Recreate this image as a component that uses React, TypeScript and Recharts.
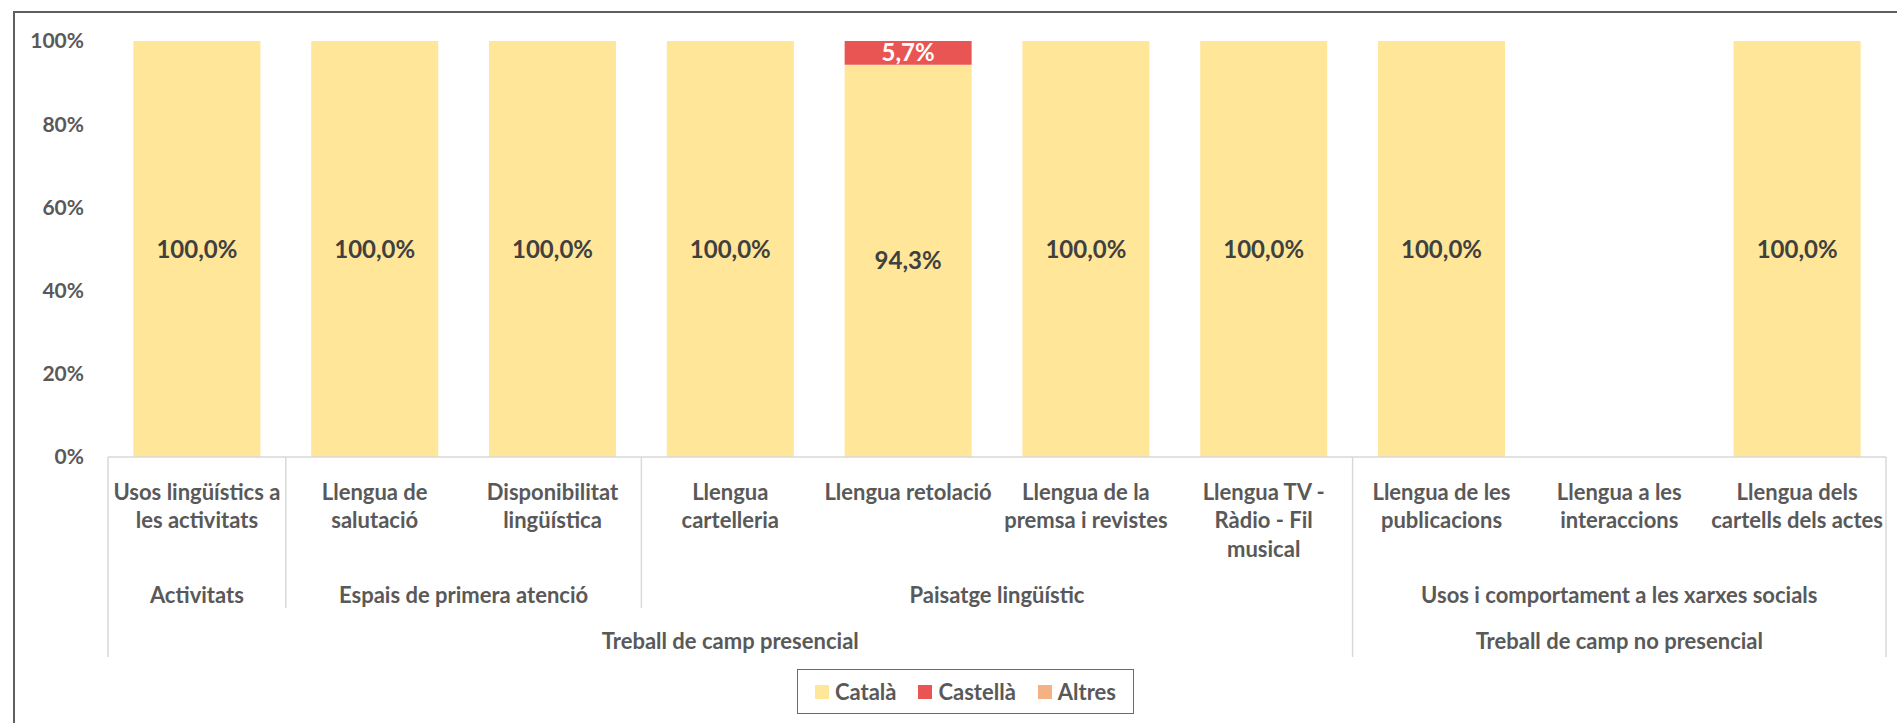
import React from "react";
import { BarChart, Bar, XAxis, YAxis, Legend, LabelList } from "recharts";

const CATEGORIES = [
  "Usos lingüístics a\nles activitats",
  "Llengua de\nsalutació",
  "Disponibilitat\nlingüística",
  "Llengua\ncartelleria",
  "Llengua retolació",
  "Llengua de la\npremsa i revistes",
  "Llengua TV -\nRàdio - Fil\nmusical",
  "Llengua de les\npublicacions",
  "Llengua a les\ninteraccions",
  "Llengua dels\ncartells dels actes",
];

// grouping of the categories (second and third level of the axis)
const GROUPS = ["Activitats", "Espais de primera atenció", "Paisatge lingüístic", "Usos i comportament a les xarxes socials"];
const GROUP_SIZES = [1, 2, 4, 3];
const SECTIONS = ["Treball de camp presencial", "Treball de camp no presencial"];
const SECTION_SIZES = [7, 3];

const SERIES = ["Català", "Castellà", "Altres"];
const CATALA = [100, 100, 100, 100, 94.3, 100, 100, 100, null, 100];
const CASTELLA = [0, 0, 0, 0, 5.7, 0, 0, 0, null, 0];
const ALTRES = [0, 0, 0, 0, 0, 0, 0, 0, null, 0];

const Y_TICKS = [0, 20, 40, 60, 80, 100];

const FONT = "Lato, Carlito, Calibri, sans-serif";
const TEXT = "#595959";
const DIVIDER = "#D9D9D9";
const AXIS_FS = 22;

const rows = CATEGORIES.map((name, i) => ({
  name,
  catala: CATALA[i],
  castella: CASTELLA[i],
  altres: ALTRES[i],
}));

const startsAt = (sizes: number[]) => {
  const out: number[] = [];
  let acc = 0;
  sizes.forEach((s) => {
    out.push(acc);
    acc += s;
  });
  return out;
};
const GROUP_STARTS = startsAt(GROUP_SIZES);
const SECTION_STARTS = startsAt(SECTION_SIZES);

const pct = (v: any) => (v ? `${Number(v).toFixed(1).replace(".", ",")}%` : "");

const CategoryTick = (props: any) => {
  const { x, y, payload } = props;
  const i = payload.index;
  const band = payload.offset ? payload.offset * 2 : props.width / CATEGORIES.length;
  const left = x - band / 2;
  const lines = String(payload.value).split("\n");
  const g = GROUP_STARTS.indexOf(i);
  const s = SECTION_STARTS.indexOf(i);
  const last = i === CATEGORIES.length - 1;

  return (
    <g>
      <text x={x} y={y + 34} textAnchor="middle" fill={TEXT} fontFamily={FONT} fontWeight={700} fontSize={AXIS_FS}>
        {lines.map((l, k) => (
          <tspan key={k} x={x} dy={k === 0 ? 0 : 28.5} dominantBaseline="central">
            {l}
          </tspan>
        ))}
      </text>
      {g >= 0 && (
        <>
          <line x1={left} x2={left} y1={y} y2={y + (s >= 0 ? 200 : 151)} stroke={DIVIDER} strokeWidth={1.5} />
          <text
            x={left + (GROUP_SIZES[g] * band) / 2}
            y={y + 137}
            textAnchor="middle"
            dominantBaseline="central"
            fill={TEXT}
            fontFamily={FONT}
            fontWeight={700}
            fontSize={AXIS_FS}
          >
            {GROUPS[g]}
          </text>
        </>
      )}
      {s >= 0 && (
        <text
          x={left + (SECTION_SIZES[s] * band) / 2}
          y={y + 183}
          textAnchor="middle"
          dominantBaseline="central"
          fill={TEXT}
          fontFamily={FONT}
          fontWeight={700}
          fontSize={AXIS_FS}
        >
          {SECTIONS[s]}
        </text>
      )}
      {last && <line x1={x + band / 2} x2={x + band / 2} y1={y} y2={y + 200} stroke={DIVIDER} strokeWidth={1.5} />}
    </g>
  );
};

const renderLegend = (props: any) => {
  const payload = [...(props.payload || [])].sort(
    (a: any, b: any) => SERIES.indexOf(a.value) - SERIES.indexOf(b.value)
  );
  return (
    <div
      style={{
        boxSizing: "border-box",
        width: "100%",
        height: "100%",
        border: "1.5px solid #6b6b6b",
        display: "flex",
        alignItems: "center",
        justifyContent: "center",
        gap: 22,
        fontFamily: FONT,
        fontWeight: 700,
        fontSize: AXIS_FS,
        color: TEXT,
        background: "#fff",
      }}
    >
      {payload.map((p: any) => (
        <span key={p.value} style={{ display: "flex", alignItems: "center", gap: 6 }}>
          <span style={{ width: 14, height: 14, background: p.color, display: "inline-block" }} />
          {p.value}
        </span>
      ))}
    </div>
  );
};

const App: React.FC = () => {
  return (
    <div style={{ position: "absolute", left: 0, top: 0, width: 1897, height: 723, background: "#fff" }}>
      <div
        style={{
          position: "absolute",
          left: 13,
          top: 11,
          width: 1884,
          height: 712,
          boxSizing: "border-box",
          borderTop: "2px solid #5f5f5f",
          borderLeft: "2px solid #5f5f5f",
        }}
      />
      <BarChart
        width={1897}
        height={723}
        data={rows}
        margin={{ top: 41, right: 11, left: 0, bottom: 0 }}
        barCategoryGap="14.3%"
      >
        <XAxis
          dataKey="name"
          height={266}
          interval={0}
          tickLine={false}
          tickSize={0}
          tickMargin={0}
          axisLine={{ stroke: DIVIDER, strokeWidth: 1.5 }}
          tick={<CategoryTick />}
        />
        <YAxis
          width={108}
          domain={[0, 100]}
          ticks={Y_TICKS}
          axisLine={false}
          tickLine={false}
          tickSize={0}
          tickMargin={24}
          tickFormatter={(v) => `${v}%`}
          tick={{ fill: TEXT, fontFamily: FONT, fontWeight: 700, fontSize: 21 }}
        />
        <Legend
          layout="horizontal"
          verticalAlign="middle"
          align="center"
          content={renderLegend}
          wrapperStyle={{ left: 797, top: 669, width: 337, height: 45 }}
        />
        <Bar dataKey="catala" name={SERIES[0]} stackId="a" fill="#FFE699" isAnimationActive={false}>
          <LabelList
            dataKey="catala"
            position="center"
            formatter={pct}
            fill="#404040"
            style={{ fontFamily: FONT, fontWeight: 700, fontSize: 24 }}
          />
        </Bar>
        <Bar dataKey="castella" name={SERIES[1]} stackId="a" fill="#E95552" isAnimationActive={false}>
          <LabelList
            dataKey="castella"
            position="center"
            formatter={pct}
            fill="#FFFFFF"
            style={{ fontFamily: FONT, fontWeight: 700, fontSize: 24 }}
          />
        </Bar>
        <Bar dataKey="altres" name={SERIES[2]} stackId="a" fill="#F4B183" isAnimationActive={false} />
      </BarChart>
    </div>
  );
};

export default App;
